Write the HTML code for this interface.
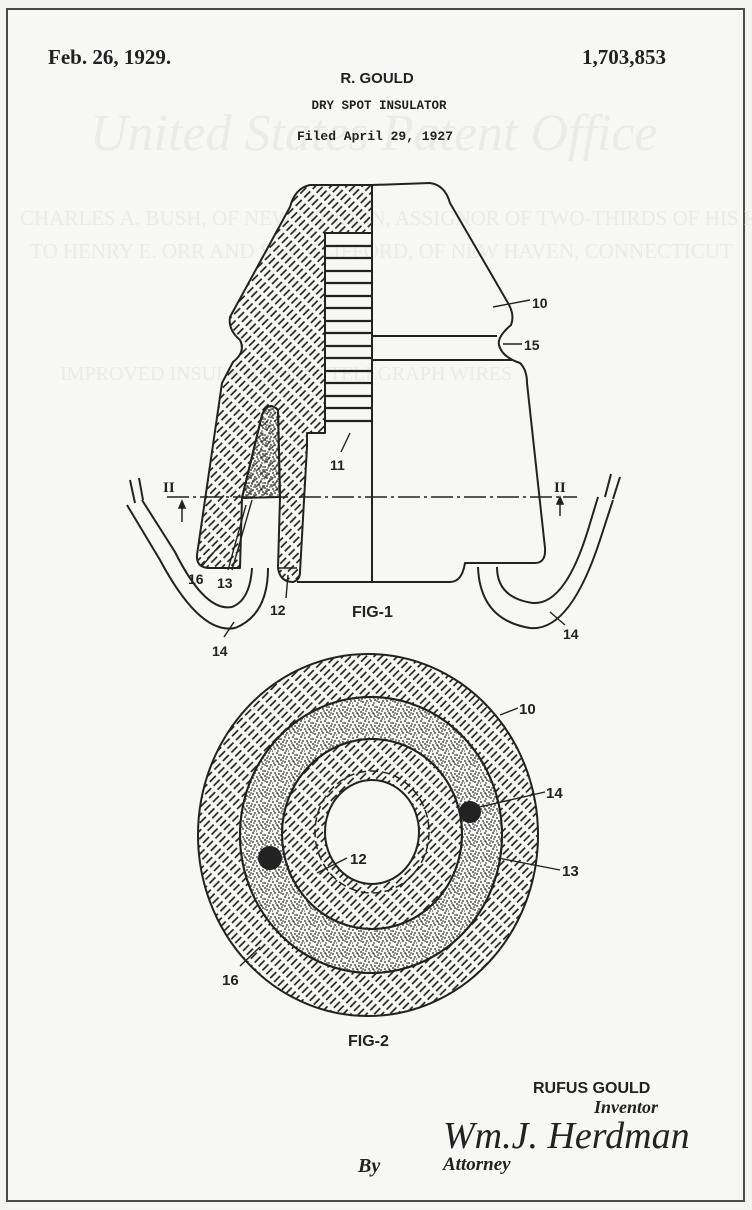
<!DOCTYPE html>
<html><head><meta charset="utf-8"><style>
html,body{margin:0;padding:0;background:#f4f4f2;}
svg{display:block;}
</style></head><body>
<svg width="752" height="1210" viewBox="0 0 752 1210" xmlns="http://www.w3.org/2000/svg">
<defs>
<pattern id="h" patternUnits="userSpaceOnUse" width="5.5" height="12" patternTransform="rotate(45)">
<line x1="2.7" y1="0" x2="2.7" y2="8.5" stroke="#222" stroke-width="1.7"/>
</pattern>
<pattern id="s" patternUnits="userSpaceOnUse" width="16" height="16">
<g fill="#222">
<circle cx="1" cy="2" r=".9"/><circle cx="5" cy="1" r=".9"/><circle cx="9" cy="3" r=".9"/><circle cx="13" cy="1" r=".9"/>
<circle cx="3" cy="5" r=".9"/><circle cx="7" cy="6" r=".9"/><circle cx="11" cy="6" r=".9"/><circle cx="15" cy="5" r=".9"/>
<circle cx="1" cy="9" r=".9"/><circle cx="5" cy="9" r=".9"/><circle cx="9" cy="8" r=".9"/><circle cx="13" cy="10" r=".9"/>
<circle cx="3" cy="13" r=".9"/><circle cx="7" cy="12" r=".9"/><circle cx="11" cy="14" r=".9"/><circle cx="15" cy="13" r=".9"/>
<circle cx="6" cy="15" r=".8"/><circle cx="10" cy="11" r=".8"/><circle cx="2" cy="11" r=".8"/><circle cx="14" cy="7" r=".8"/>
<circle cx="7" cy="3" r=".8"/><circle cx="12" cy="4" r=".8"/><circle cx="4" cy="7" r=".8"/><circle cx="9" cy="13" r=".8"/>
<circle cx="14" cy="15" r=".8"/><circle cx="0" cy="15" r=".8"/><circle cx="11" cy="9" r=".8"/><circle cx="6" cy="10" r=".8"/>
</g>
</pattern>
</defs>
<rect x="7" y="9" width="737" height="1192" fill="#f7f7f5" stroke="#4a4a4a" stroke-width="2"/>
<!-- faint ghost text -->
<g fill="#ebebe8" font-family="Liberation Serif, serif">
<text x="90" y="150" font-size="52" font-style="italic">United States Patent Office</text>
<text x="20" y="225" font-size="21">CHARLES A. BUSH, OF NEW LONDON, ASSIGNOR OF TWO-THIRDS OF HIS RIGHT</text>
<text x="30" y="258" font-size="21">TO HENRY E. ORR AND S. A. CLIFFORD, OF NEW HAVEN, CONNECTICUT</text>
<text x="60" y="380" font-size="20">IMPROVED INSULATOR FOR TELEGRAPH WIRES</text>
</g>
<!-- header -->
<g fill="#222">
<text x="48" y="64" font-family="Liberation Serif, serif" font-weight="bold" font-size="21">Feb. 26, 1929.</text>
<text x="582" y="64" font-family="Liberation Serif, serif" font-weight="bold" font-size="21">1,703,853</text>
<text x="377" y="83" text-anchor="middle" font-family="Liberation Sans, sans-serif" font-weight="bold" font-size="15">R. GOULD</text>
<text x="379" y="109" text-anchor="middle" font-family="Liberation Mono, monospace" font-weight="bold" font-size="12.5">DRY SPOT INSULATOR</text>
<text x="375" y="140" text-anchor="middle" font-family="Liberation Mono, monospace" font-weight="bold" font-size="13">Filed April 29, 1927</text>
</g>
<!-- FIG 1 -->
<g stroke="#222" stroke-width="2" fill="none" stroke-linejoin="round">
<path fill="url(#h)" d="M372,185 L310,185 Q295,188 290,207 L230,317 Q228,330 240,340 Q246,352 233,362 L222,383 L197,555 Q196,568 210,568 L240,568 L242,498 L262,415 Q268,400 278,410 L280,497 L278,568 Q280,582 293,582 Q300,580 300,572 L307,447 L307,433 L325,433 L325,233 L372,233 Z"/>
<path fill="url(#s)" d="M242,498 L262,415 Q268,400 278,410 L280,497 Z"/>
<path fill="url(#h)" stroke="none" d="M242,498 L262,415 Q268,400 278,410 L280,497 Z" opacity=".7"/>
<path d="M372,185 L430,183 Q445,185 450,203 L508,303 Q515,315 511,325 Q497,337 499,345 Q502,357 520,363 Q527,370 527,383 L545,548 Q546,563 535,563 L465,563 Q462,582 450,582 L297,582"/>
<line x1="372" y1="185" x2="372" y2="582"/>
<line x1="372" y1="336" x2="497" y2="336"/>
<line x1="372" y1="360" x2="512" y2="360"/>
<line x1="278" y1="568" x2="297" y2="568" stroke-width="1.5"/>
</g>
<g stroke="#222" stroke-width="2.2">
<line x1="325" y1="246" x2="372" y2="246"/><line x1="325" y1="258" x2="372" y2="258"/>
<line x1="325" y1="271" x2="372" y2="271"/><line x1="325" y1="283" x2="372" y2="283"/>
<line x1="325" y1="296" x2="372" y2="296"/><line x1="325" y1="308" x2="372" y2="308"/>
<line x1="325" y1="321" x2="372" y2="321"/><line x1="325" y1="333" x2="372" y2="333"/>
<line x1="325" y1="346" x2="372" y2="346"/><line x1="325" y1="358" x2="372" y2="358"/>
<line x1="325" y1="371" x2="372" y2="371"/><line x1="325" y1="383" x2="372" y2="383"/>
<line x1="325" y1="396" x2="372" y2="396"/><line x1="325" y1="408" x2="372" y2="408"/>
<line x1="325" y1="421" x2="372" y2="421"/>
</g>
<line x1="167" y1="497" x2="577" y2="497" stroke="#222" stroke-width="1.5" stroke-dasharray="22 4 3 4"/>
<g font-family="Liberation Serif, serif" font-weight="bold" font-size="15" fill="#222">
<text x="163" y="492">II</text><text x="554" y="492">II</text>
</g>
<g stroke="#222" stroke-width="1.5" fill="#222">
<line x1="182" y1="522" x2="182" y2="506"/><path d="M179,508 L182,501 L185,508 Z"/>
<line x1="560" y1="516" x2="560" y2="502"/><path d="M557,504 L560,497 L563,504 Z"/>
</g>
<g stroke="#222" stroke-width="2" fill="none">
<path d="M127,505 L160,560 Q200,635 235,628 Q268,615 268,568"/>
<path d="M142,500 L175,552 Q205,612 232,607 Q250,600 252,568"/>
<path d="M130,480 L135,503 M139,478 L143,500"/>
<path d="M613,500 L600,540 Q570,632 530,628 Q480,620 478,567"/>
<path d="M598,497 L588,530 Q565,605 533,603 Q497,598 497,567"/>
<path d="M611,474 L605,497 M620,477 L613,499"/>
</g>
<g stroke="#222" stroke-width="1.4">
<line x1="493" y1="307" x2="530" y2="300"/>
<line x1="503" y1="344" x2="522" y2="344"/>
<line x1="350" y1="433" x2="341" y2="452"/>
<line x1="202" y1="566" x2="220" y2="545"/>
<line x1="228" y1="570" x2="246" y2="505"/>
<line x1="232" y1="570" x2="252" y2="500"/>
<line x1="286" y1="598" x2="288" y2="575"/>
<line x1="224" y1="637" x2="234" y2="622"/>
<line x1="565" y1="625" x2="550" y2="612"/>
</g>
<g font-family="Liberation Sans, sans-serif" font-weight="bold" font-size="14" fill="#222">
<text x="532" y="308">10</text>
<text x="524" y="350">15</text>
<text x="330" y="470">11</text>
<text x="188" y="584">16</text>
<text x="217" y="588">13</text>
<text x="270" y="615">12</text>
<text x="352" y="617" font-size="16">FIG-1</text>
<text x="212" y="656">14</text>
<text x="563" y="639">14</text>
</g>
<!-- FIG 2 -->
<g stroke="#222" stroke-width="2">
<ellipse cx="368" cy="835" rx="170" ry="181" fill="url(#h)"/>
<ellipse cx="371" cy="835" rx="131" ry="138" fill="#f7f7f5"/>
<ellipse cx="371" cy="835" rx="131" ry="138" fill="url(#s)"/>
<ellipse cx="372" cy="834" rx="90" ry="95" fill="#f7f7f5"/>
<ellipse cx="372" cy="834" rx="90" ry="95" fill="url(#h)"/>
<ellipse cx="372" cy="832" rx="47" ry="52" fill="#f7f7f5"/>
</g>
<ellipse cx="372" cy="832" rx="57" ry="61" fill="none" stroke="#222" stroke-width="1.5" stroke-dasharray="8 4"/>
<circle cx="470" cy="812" r="11" fill="#222"/>
<circle cx="270" cy="858" r="12" fill="#222"/>
<g stroke="#222" stroke-width="1.4">
<line x1="500" y1="715" x2="518" y2="708"/>
<line x1="475" y1="808" x2="545" y2="792"/>
<line x1="317" y1="873" x2="347" y2="858"/>
<line x1="498" y1="858" x2="560" y2="870"/>
<line x1="240" y1="966" x2="260" y2="947"/>
</g>
<g font-family="Liberation Sans, sans-serif" font-weight="bold" font-size="15" fill="#222">
<text x="519" y="714">10</text>
<text x="546" y="798">14</text>
<text x="350" y="864">12</text>
<text x="562" y="876">13</text>
<text x="222" y="985">16</text>
<text x="348" y="1046" font-size="16">FIG-2</text>
</g>
<g fill="#222">
<text x="533" y="1093" font-family="Liberation Sans, sans-serif" font-weight="bold" font-size="16">RUFUS GOULD</text>
<text x="594" y="1113" font-family="Liberation Serif, serif" font-weight="bold" font-style="italic" font-size="18">Inventor</text>
<text x="443" y="1148" font-family="Liberation Serif, serif" font-style="italic" font-size="38">Wm.J. Herdman</text>
<text x="358" y="1172" font-family="Liberation Serif, serif" font-weight="bold" font-style="italic" font-size="20">By</text>
<text x="443" y="1170" font-family="Liberation Serif, serif" font-weight="bold" font-style="italic" font-size="19">Attorney</text>
</g>
</svg>
</body></html>
